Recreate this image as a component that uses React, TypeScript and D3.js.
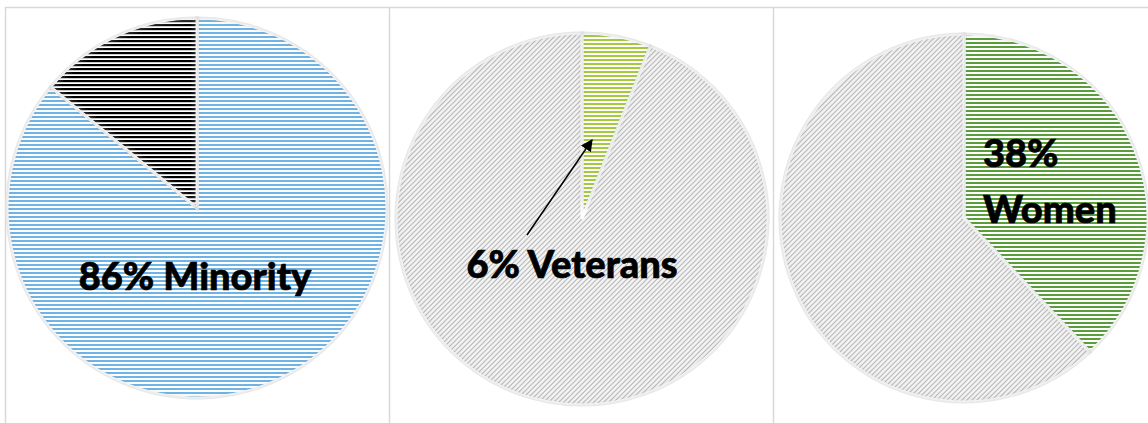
import React from "react";
import * as d3 from "d3";

const W = 1148;
const H = 423;

// Data
const minorityLabels = ["Minority", "Other"];
const minorityValues = [86, 14];
const veteranLabels = ["Veterans", "Other"];
const veteranValues = [6, 94];
const womenLabels = ["Women", "Other"];
const womenValues = [38, 62];

type PieSpec = {
  labels: string[];
  values: number[];
  fills: string[];
  cx: number;
  cy: number;
  r: number;
};

const pies: PieSpec[] = [
  { labels: minorityLabels, values: minorityValues, fills: ["url(#pBlue)", "url(#pBlack)"], cx: 197, cy: 208, r: 190 },
  { labels: veteranLabels, values: veteranValues, fills: ["url(#pLime)", "url(#pGrey)"], cx: 582, cy: 219, r: 186 },
  { labels: womenLabels, values: womenValues, fills: ["url(#pGreen)", "url(#pGrey)"], cx: 964, cy: 218, r: 184 },
];

const FONT = "Lato, 'Open Sans', sans-serif";

function Stripe({ id, color, bg = "#ffffff", h = 2 }: { id: string; color: string; bg?: string; h?: number }) {
  return (
    <pattern id={id} patternUnits="userSpaceOnUse" width={4} height={4}>
      <rect width={4} height={4} fill={bg} />
      <rect y={0} width={4} height={h} fill={color} />
    </pattern>
  );
}

export default function App() {
  const pieGen = d3.pie<number>().sort(null).startAngle(0).endAngle(2 * Math.PI);

  return (
    <svg width={W} height={H} style={{ position: "absolute", left: 0, top: 0, background: "#fff" }}>
      <defs>
        <Stripe id="pBlue" color="#6fb4e6" />
        <Stripe id="pBlack" color="#000000" h={2.2} />
        <Stripe id="pLime" color="#a5ca3e" />
        <Stripe id="pGreen" color="#5a9e3a" />
        <pattern id="pGrey" patternUnits="userSpaceOnUse" width={5} height={5}>
          <rect width={5} height={5} fill="#f3f3f3" />
          <path d="M-1,1 L1,-1 M0,5 L5,0 M4,6 L6,4" stroke="#b9b9b9" strokeWidth={1.1} />
        </pattern>
        <filter id="inner" x="-5%" y="-5%" width="110%" height="110%">
          <feFlood floodColor="#8a8a8a" floodOpacity="0.6" result="f" />
          <feComposite in="f" in2="SourceAlpha" operator="out" result="inv" />
          <feGaussianBlur in="inv" stdDeviation="3.5" result="blur" />
          <feComposite in="blur" in2="SourceAlpha" operator="in" result="shadow" />
          <feMerge>
            <feMergeNode in="SourceGraphic" />
            <feMergeNode in="shadow" />
          </feMerge>
        </filter>
        <marker id="arrow" viewBox="0 0 10 10" refX="9" refY="5" markerWidth="12" markerHeight="12" markerUnits="userSpaceOnUse" orient="auto">
          <path d="M0,0 L10,5 L0,10 z" fill="#000" />
        </marker>
      </defs>

      {/* panel borders */}
      <g stroke="#d9d9d9" strokeWidth={1.5} fill="none">
        <line x1={5} y1={7.5} x2={W} y2={7.5} />
        <line x1={5.5} y1={7} x2={5.5} y2={H} />
        <line x1={389.5} y1={7} x2={389.5} y2={H} />
        <line x1={773.5} y1={7} x2={773.5} y2={H} />
      </g>

      {pies.map((p, i) => {
        const arcs = pieGen(p.values);
        const arcGen = d3.arc<d3.PieArcDatum<number>>().innerRadius(0).outerRadius(p.r);
        return (
          <g key={i} transform={`translate(${p.cx},${p.cy})`}>
            {arcs.map((a, j) => (
              <path
                key={j}
                d={arcGen(a) || ""}
                fill={p.fills[j]}
                stroke="#ffffff"
                strokeWidth={3}
                strokeLinejoin="miter"
                filter="url(#inner)"
              />
            ))}
          </g>
        );
      })}

      <g fontFamily={FONT} fontWeight={900} fontSize={38} fill="#000" stroke="#000" strokeWidth={0.7}>
        <text x={195} y={290} textAnchor="middle">{`${minorityValues[0]}% ${minorityLabels[0]}`}</text>
        <text x={572} y={278} textAnchor="middle">{`${veteranValues[0]}% ${veteranLabels[0]}`}</text>
        <text x={983} y={167} textAnchor="start">{`${womenValues[0]}%`}</text>
        <text x={983} y={223} textAnchor="start">{womenLabels[0]}</text>
      </g>

      <line x1={527} y1={235} x2={592} y2={140} stroke="#000" strokeWidth={1.5} markerEnd="url(#arrow)" />
    </svg>
  );
}
